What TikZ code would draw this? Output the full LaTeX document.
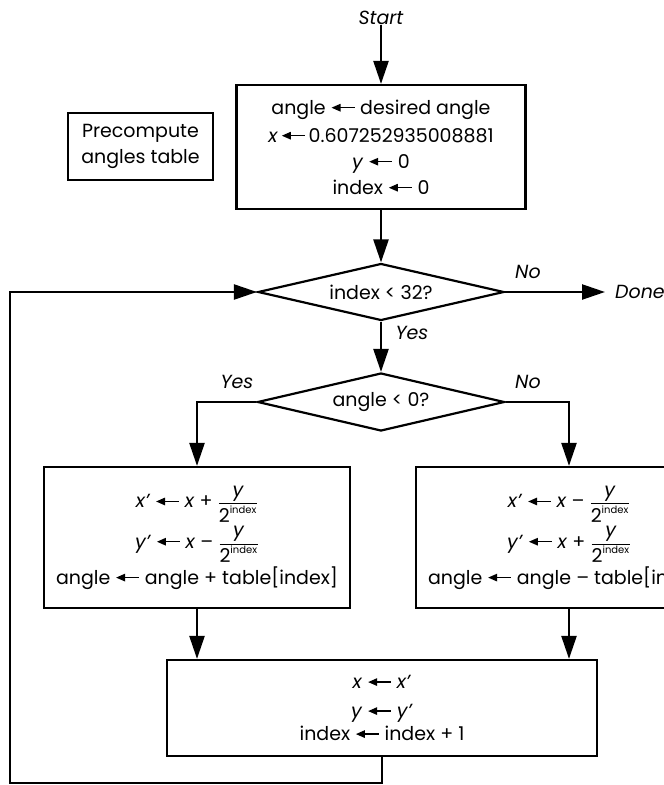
\documentclass[tikz,border=0pt]{standalone}
\usepackage{amsmath}
\usepackage{fontspec}
\setmainfont{Poppins}
\usetikzlibrary{arrows.meta,shapes.geometric}
\newcommand\lar{\tikz[baseline=-0.62ex]\draw[line width=1.3pt,{Triangle[length=9pt,width=7.5pt]}-](0pt,0pt)--(23pt,0pt);}
\newcommand\yfrac{\ensuremath{\dfrac{\text{\fontsize{19}{19}\selectfont\itshape y}}{\text{\fontsize{19}{19}\selectfont 2}^{\text{\fontsize{10}{10}\selectfont index}}}}}
\begin{document}
\begin{tikzpicture}[x=1pt,y=-1pt,
  every node/.style={font=\fontsize{19}{26}\selectfont},
  boxst/.style={draw, rectangle, line width=2.2pt, align=center, inner sep=0pt},
  decst/.style={draw, diamond, line width=2.2pt, inner sep=0pt, aspect=4.3},
  lbl/.style={font=\fontsize{19}{26}\selectfont\itshape, inner sep=0pt},
  arr/.style={line width=2.4pt, -{Triangle[length=23pt,width=15pt]}},
  lnk/.style={line width=2.4pt}]
\useasboundingbox (0,0) rectangle (664,785);
\node[lbl] (start) at (381,18) {Start};
\node[boxst, minimum width=289pt, minimum height=124pt] (init) at (381,147)
  {angle \lar{} desired angle\\[2pt] \textit{x}\,\lar\,0.607252935008881\\ \textit{y} \lar{} 0\\ index \lar{} 0};
\node[boxst, minimum width=145pt, minimum height=67pt] (pre) at (140.5,146.5)
  {Precompute\\ angles table};
\node[decst, minimum width=246pt, minimum height=57pt] (d1) at (381,292) {index < 32?};
\node[decst, minimum width=247pt, minimum height=58pt] (d2) at (381,402) {angle < 0?};
\node[lbl, anchor=west, inner xsep=10pt] (done) at (605,292) {Done};
\node[lbl] (no1) at (528,272) {No};
\node[lbl] (yes1) at (412,333) {Yes};
\node[lbl] (yes2) at (237,382) {Yes};
\node[lbl] (no2) at (528,382) {No};
\node[boxst, minimum width=306pt, minimum height=141pt] (lbox) at (197,537.5)
  {\textit{x’} \lar{} \textit{x} + \yfrac\\[3pt] \textit{y’} \lar{} \textit{x} – \yfrac\\[3pt] angle \lar{} angle + table[index]};
\node[boxst, minimum width=306pt, minimum height=141pt] (rbox) at (569,537.5)
  {\textit{x’} \lar{} \textit{x} – \yfrac\\[3pt] \textit{y’} \lar{} \textit{x} + \yfrac\\[3pt] angle \lar{} angle – table[index]};
\node[boxst, minimum width=430pt, minimum height=96pt] (bbox) at (382,708)
  {\textit{x} \lar{} \textit{x’}\\[3pt] \textit{y} \lar{} \textit{y’}\\[-3pt] index \lar{} index + 1};
\coordinate (lc) at (10,783);
\draw[arr] (start) -- (init);
\draw[arr] (init) -- (d1);
\draw[arr] (d1) -- (d2);
\draw[arr] (d1.east) -- (done.west);
\draw[arr] (d2.west) -| (lbox.north);
\draw[arr] (d2.east) -| (rbox.north);
\draw[arr] (lbox.south) -- (lbox.south |- bbox.north);
\draw[arr] (rbox.south) -- (rbox.south |- bbox.north);
\draw[arr] (bbox.south) |- (lc) |- (d1.west);
\end{tikzpicture}
\end{document}
